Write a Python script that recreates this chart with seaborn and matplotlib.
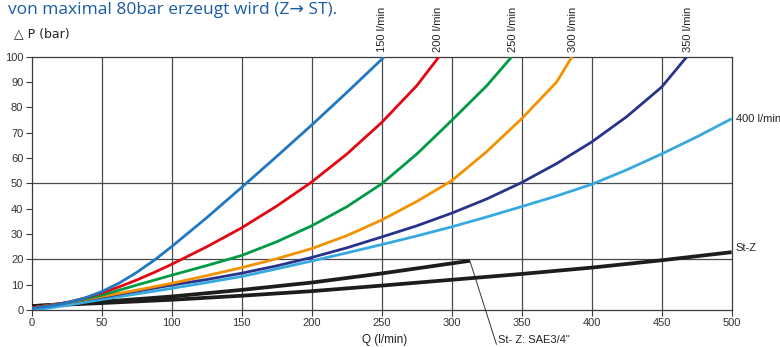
import matplotlib
matplotlib.use("Agg")
import matplotlib.pyplot as plt
import seaborn as sns
import pandas as pd

# ---- data ----
q150 = [0, 12.5, 25, 37.5, 50, 62.5, 75, 87.5, 100, 125, 150, 175, 200, 225, 252]
p150 = [0.5, 1.5, 2.8, 4.6, 7.2, 10.6, 14.8, 19.6, 25.0, 36.4, 48.4, 60.6, 73.0, 85.8, 100.0]

q200 = [0, 12.5, 25, 37.5, 50, 62.5, 75, 87.5, 100, 125, 150, 175, 200, 225, 250, 275, 291]
p200 = [0.8, 1.7, 2.9, 4.6, 6.7, 9.1, 11.8, 14.8, 18.0, 24.9, 32.4, 41.0, 50.5, 61.5, 74.0, 88.5, 100.0]

q250 = [0, 25, 50, 75, 100, 125, 150, 175, 200, 225, 250, 275, 300, 325, 343]
p250 = [0.8, 2.8, 5.8, 9.8, 13.7, 17.5, 21.5, 26.9, 33.2, 40.7, 49.8, 61.5, 74.8, 88.5, 100.0]

q300 = [0, 25, 50, 75, 100, 125, 150, 175, 200, 225, 250, 275, 300, 325, 350, 375, 386]
p300 = [0.8, 2.8, 5.3, 7.8, 10.5, 13.5, 16.7, 20.2, 24.2, 29.3, 35.5, 42.8, 51.0, 62.5, 75.5, 90.0, 100.0]

q350 = [0, 25, 50, 75, 100, 125, 150, 175, 200, 225, 250, 275, 300, 325, 350, 375, 400, 425, 450, 468]
p350 = [0.8, 2.9, 5.0, 7.4, 9.8, 12.0, 14.5, 17.4, 20.7, 24.5, 28.8, 33.2, 38.2, 43.8, 50.3, 57.8, 66.3, 76.3, 88.0, 100.0]

q400 = [0, 25, 50, 75, 100, 125, 150, 175, 200, 225, 250, 275, 300, 325, 350, 375, 400, 425, 450, 475, 500]
p400 = [-0.3, 1.8, 4.1, 6.3, 8.5, 10.8, 13.2, 16.2, 19.3, 22.5, 25.8, 29.2, 32.8, 36.7, 40.8, 45.0, 49.6, 55.3, 61.6, 68.3, 75.5]

q_stz = [0, 50, 100, 150, 200, 250, 300, 350, 400, 450, 500]
p_stz = [1.5, 2.7, 4.0, 5.6, 7.4, 9.6, 11.9, 14.2, 16.7, 19.6, 22.8]

q_sae = [0, 50, 100, 150, 200, 250, 313]
p_sae = [1.5, 3.2, 5.3, 7.9, 10.8, 14.4, 19.4]

series_names = ["150 l/min", "200 l/min", "250 l/min", "300 l/min", "350 l/min", "400 l/min", "St-Z", "St- Z: SAE3/4\""]
series_q = [q150, q200, q250, q300, q350, q400, q_stz, q_sae]
series_p = [p150, p200, p250, p300, p350, p400, p_stz, p_sae]
colors = ["#1f78c1", "#e30613", "#009a44", "#f39200", "#28348a", "#36a9e1", "#1d1d1b", "#1d1d1b"]
widths = [2.0, 2.0, 2.0, 2.0, 2.0, 2.0, 2.7, 2.7]

x_ticks = [0, 50, 100, 150, 200, 250, 300, 350, 400, 450, 500]
y_ticks = [0, 10, 20, 30, 40, 50, 60, 70, 80, 90, 100]
h_grid = [20, 50]

top_label_x = [250, 290, 344, 387, 469]
top_labels = ["150 l/min", "200 l/min", "250 l/min", "300 l/min", "350 l/min"]

sns.set_theme(style="white")
plt.rcParams['font.family'] = ['Liberation Sans', 'DejaVu Sans']

fig = plt.figure(figsize=(7.8, 3.47), dpi=100)
ax = fig.add_axes([0.0406, 0.1069, 0.8974, 0.7297])

frames = []
for name, q, p in zip(series_names, series_q, series_p):
    frames.append(pd.DataFrame({"Q": q, "P": p, "series": name}))
df = pd.concat(frames, ignore_index=True)

# grid lines
for xv in x_ticks[1:-1]:
    ax.axvline(xv, color="#4a4a4a", lw=0.9, zorder=1)
for yv in h_grid:
    ax.axhline(yv, color="#4a4a4a", lw=0.9, zorder=1)

order = [6, 7, 5, 4, 3, 2, 1, 0]
for i in order:
    sub = df[df["series"] == series_names[i]]
    sns.lineplot(data=sub, x="Q", y="P", ax=ax, color=colors[i], lw=widths[i],
                 estimator=None, sort=False, legend=False, zorder=3,
                 solid_capstyle="butt", solid_joinstyle="round")

ax.set_xlim(0, 500)
ax.set_ylim(0, 100)
ax.set_xticks(x_ticks)
ax.set_yticks(y_ticks)
ax.set_xlabel("")
ax.set_ylabel("")
for s in ax.spines.values():
    s.set_color("#3a3a3a")
    s.set_linewidth(0.9)
ax.tick_params(axis="both", which="both", direction="out", length=4, width=0.8,
               color="#3a3a3a", labelsize=8, labelcolor="#333333", pad=2,
               bottom=True, left=True)

for xv, lab in zip(top_label_x, top_labels):
    ax.text(xv, 102, lab, rotation=90, ha="center", va="bottom", fontsize=8,
            color="#222222", clip_on=False)

ax.text(503, 75.5, "400 l/min", ha="left", va="center", fontsize=8, color="#222222", clip_on=False)
ax.text(503, 24.5, "St-Z", ha="left", va="center", fontsize=8, color="#222222", clip_on=False)

# leader line for the SAE3/4" curve
ax.plot([q_sae[-1], 332], [p_sae[-1], -13.6], color="#333333", lw=0.7,
        clip_on=False, zorder=2)
ax.text(333, -12.0, "St- Z: SAE3/4\"", ha="left", va="center", fontsize=8,
        color="#222222", clip_on=False)

fig.text(14 / 780, 1 - 34 / 347, "△ P (bar)", ha="left", va="center", fontsize=9,
         color="#222222", family=["DejaVu Sans"])
fig.text(385 / 780, 1 - 340 / 347, "Q (l/min)", ha="center", va="center", fontsize=8.5,
         color="#222222")
fig.text(8 / 780, 1 - 14 / 347, "von maximal 80bar erzeugt wird (Z→ ST).", ha="left",
         va="baseline", fontsize=12.5, color="#1a5ba6", family=["Open Sans", "DejaVu Sans"])

fig.savefig("out.png", dpi=100)
